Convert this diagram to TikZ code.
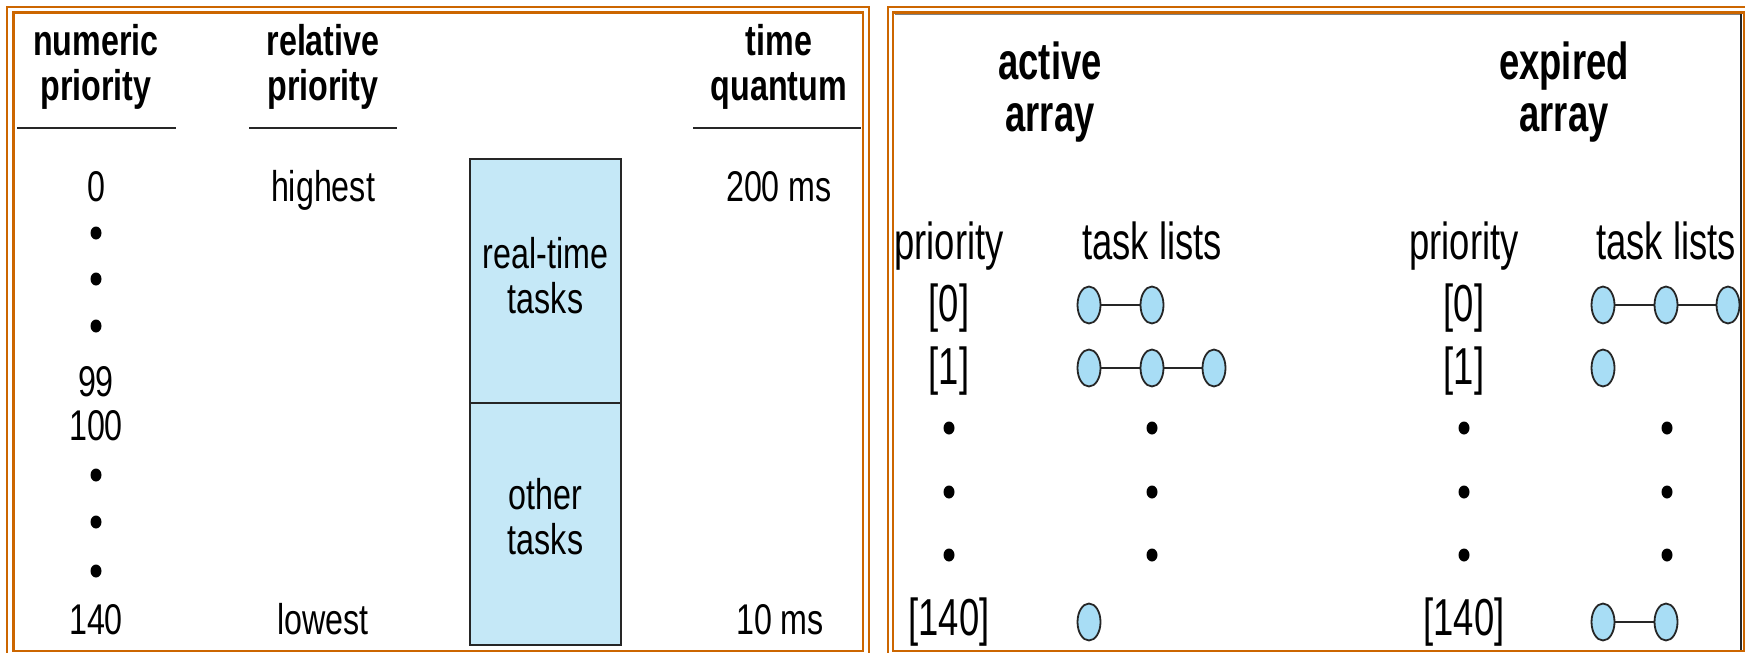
\documentclass[tikz,border=0pt]{standalone}
\usepackage{fontspec}
\usepackage{tikz}
\usetikzlibrary{shapes.geometric}
\setmainfont{Liberation Sans}
\newfontfamily\leftfont[FakeStretch=0.75]{Liberation Sans}
\newfontfamily\rightfont[FakeStretch=0.70]{Liberation Sans}
\definecolor{frameorange}{RGB}{204,102,0}
\definecolor{boxblue}{RGB}{197,232,247}
\definecolor{taskblue}{RGB}{168,221,245}

\begin{document}
\begin{tikzpicture}[x=1pt,y=-1pt,
   frame/.style={draw=frameorange,line width=2.8pt},
   rule/.style={line width=2pt,black!85},
   lhead/.style={font=\leftfont\fontsize{43}{45}\selectfont\bfseries,anchor=base,inner sep=0pt,align=center},
   ltext/.style={font=\leftfont\fontsize{43}{45}\selectfont,anchor=base,inner sep=0pt},
   rhead/.style={font=\rightfont\fontsize{52}{52}\selectfont\bfseries,anchor=base,inner sep=0pt,align=center},
   rtext/.style={font=\rightfont\fontsize{52}{52}\selectfont,inner sep=0pt},
   prio/.style={draw=black!85,line width=1.5pt,fill=boxblue,minimum width=151pt},
   boxtext/.style={font=\leftfont\fontsize{43}{45}\selectfont,align=center,inner sep=0pt},
   task/.style={ellipse,draw=black!85,line width=1.8pt,fill=taskblue,
      minimum width=23pt,minimum height=37pt,inner sep=0pt},
   link/.style={draw=black!85,line width=1.8pt}]
   \useasboundingbox (0,0) rectangle (1745,653);

   % frames
   \draw[frame] (7,7) rectangle (869,660);
   \draw[frame] (13.5,12.5) rectangle (863,651);
   \draw[frame] (888,7) rectangle (1760,660);
   \draw[frame] (893,12.5) rectangle (1744,651);
   \draw[line width=1pt,gray] (895,14.5) -- (1741,14.5);
   \draw[line width=2pt,black!85] (1741,14) -- (1741,650);

   % left: priority table
   \node[lhead] (numhd) at (96,100) {numeric\\priority};
   \node[lhead] (relhd) at (323,100) {relative\\priority};
   \node[lhead] (qhd) at (779,100) {time\\quantum};
   \draw[rule] (17,128) -- (176,128);
   \draw[rule] (249,128) -- (397,128);
   \draw[rule] (693,128) -- (861,128);

   \node[ltext] (n0) at (96,201) {0};
   \node[ltext] (hi) at (323,201) {highest};
   \node[ltext] (q200) at (779,201) {200 ms};
   \node[ltext] (n99) at (96,396) {99};
   \node[ltext] (n100) at (96,440) {100};
   \node[ltext] (n140) at (96,634) {140};
   \node[ltext] (lo) at (323,634) {lowest};
   \node[ltext] (q10) at (780,634) {10 ms};
   \foreach \y in {233,279,326,475,522,571}
      \fill (96,\y) ellipse (5.5 and 6.5);

   \node[prio,minimum height=244pt] (rt) at (545.5,281) {};
   \node[prio,minimum height=242pt] (other) at (545.5,524) {};
   \node[boxtext] (rtlbl) at ([yshift=5pt]rt.center) {real-time\\tasks};
   \node[boxtext] (otherlbl) at ([yshift=7pt]other.center) {other\\tasks};

   % right: active and expired arrays
   \node[rhead] (acthd) at (1050,131) {active\\array};
   \node[rhead] (exphd) at (1564,131) {expired\\array};
   \node[rtext,anchor=base] (apr) at (949,259) {priority};
   \node[rtext,anchor=base] (atl) at (1152,259) {task lists};
   \node[rtext,anchor=base] (epr) at (1464,259) {priority};
   \node[rtext,anchor=base] (etl) at (1666,259) {task lists};

   \node[rtext] (a0) at (949,308) {[0]};
   \node[rtext] (a1) at (949,371) {[1]};
   \node[rtext] (a140) at (949,622) {[140]};
   \node[rtext] (e0) at (1464,308) {[0]};
   \node[rtext] (e1) at (1464,371) {[1]};
   \node[rtext] (e140) at (1464,622) {[140]};
   \foreach \x in {949,1152,1464,1667}
      \foreach \y in {428,492,555}
         \fill (\x,\y) ellipse (5.5 and 6.5);

   \node[task] (a0t1) at (1089,305) {};
   \node[task] (a0t2) at (1152,305) {};
   \node[task] (a1t1) at (1089,368) {};
   \node[task] (a1t2) at (1152,368) {};
   \node[task] (a1t3) at (1214,368) {};
   \node[task] (a140t1) at (1089,622) {};
   \draw[link] (a0t1) -- (a0t2);
   \draw[link] (a1t1) -- (a1t2) (a1t2) -- (a1t3);

   \node[task] (e0t1) at (1603,305) {};
   \node[task] (e0t2) at (1666,305) {};
   \node[task] (e0t3) at (1728,305) {};
   \node[task] (e1t1) at (1603,368) {};
   \node[task] (e140t1) at (1603,622) {};
   \node[task] (e140t2) at (1666,622) {};
   \draw[link] (e0t1) -- (e0t2) (e0t2) -- (e0t3);
   \draw[link] (e140t1) -- (e140t2);
\end{tikzpicture}
\end{document}
